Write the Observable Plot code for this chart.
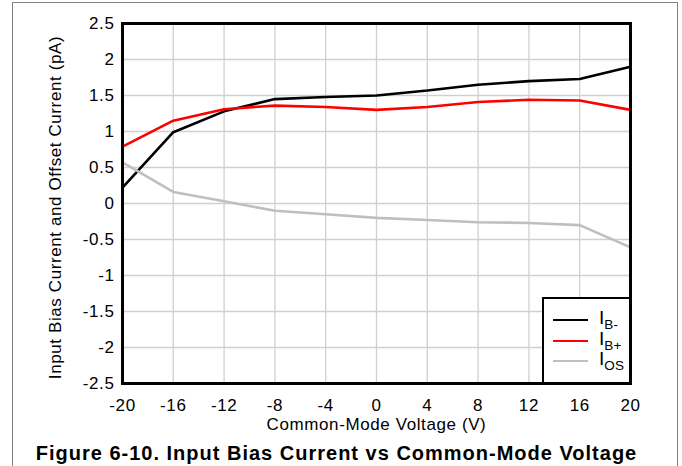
<!DOCTYPE html>
<html>
<head>
<meta charset="utf-8">
<script src="https://cdn.jsdelivr.net/npm/d3@7"></script>
<script src="https://cdn.jsdelivr.net/npm/@observablehq/plot@0.6"></script>
<style>
  html, body { margin: 0; padding: 0; background: #fff; }
  body { width: 682px; height: 466px; position: relative; overflow: hidden; font-family: "Liberation Sans", Arial, sans-serif; }
  #frame { position: absolute; left: 12px; top: 2px; width: 666px; height: 480px; border-left: 1.5px solid #808080; border-top: 1.5px solid #808080; border-right: 1.5px solid #808080; box-sizing: border-box; pointer-events: none; }
  #chart { position: absolute; left: 0; top: 0; }
  #chart svg text { letter-spacing: 0.6px; }
  #title { position: absolute; left: 0; top: 442px; width: 682px; text-align: center; font-weight: bold; font-size: 20px; letter-spacing: 1px; color: #000; padding-right: 9px; box-sizing: border-box; white-space: nowrap; }
  #legend { position: absolute; left: 542px; top: 297px; width: 89px; height: 87px; border: 2.5px solid #000; background: #fff; box-sizing: border-box; }
  .row { position: absolute; left: 9px; height: 20px; }
  .row .ln { position: absolute; left: 0; top: 9px; width: 35px; height: 0; border-top: 2.5px solid; }
  .row .lb { position: absolute; left: 46px; top: -2px; white-space: nowrap; font-size: 19px; line-height: 20px; }
  .row sub { font-size: 13.5px; vertical-align: -5px; line-height: 0; letter-spacing: 0.3px; }
</style>
</head>
<body>
<div id="chart"></div>
<div id="frame"></div>
<div id="legend"></div>
<div id="title">Figure 6-10. Input Bias Current vs Common-Mode Voltage</div>
<script>
const voltage = [-20, -16, -12, -8, -4, 0, 4, 8, 12, 16, 20];
const ibMinus = [0.22, 0.99, 1.28, 1.45, 1.48, 1.50, 1.57, 1.65, 1.70, 1.73, 1.90];
const ibPlus  = [0.79, 1.15, 1.31, 1.36, 1.34, 1.30, 1.34, 1.41, 1.44, 1.43, 1.30];
const ios     = [0.57, 0.16, 0.03, -0.10, -0.15, -0.20, -0.23, -0.26, -0.27, -0.30, -0.61];
const seriesNames = ["IB-", "IB+", "IOS"];
const seriesLabels = [["B-"], ["B+"], ["OS"]];
const seriesColors = ["#000000", "#ff0000", "#bfbfbf"];
const xTicks = [-20, -16, -12, -8, -4, 0, 4, 8, 12, 16, 20];
const yTicks = [-2.5, -2, -1.5, -1, -0.5, 0, 0.5, 1, 1.5, 2, 2.5];
const xLabel = "Common-Mode Voltage (V)";
const yLabel = "Input Bias Current and Offset Current (pA)";

const allValues = [ibMinus, ibPlus, ios];
const data = [];
allValues.forEach((vals, s) => vals.forEach((v, i) => data.push({series: seriesNames[s], x: voltage[i], y: v})));

const chart = Plot.plot({
  width: 682,
  height: 440,
  marginTop: 23,
  marginBottom: 57,
  marginLeft: 122,
  marginRight: 52,
  style: { fontFamily: "'Liberation Sans', Arial, sans-serif", fontSize: "17px", color: "#000", background: "transparent" },
  x: { domain: [-20, 20] },
  y: { domain: [-2.5, 2.5] },
  color: { domain: seriesNames, range: seriesColors },
  marks: [
    Plot.ruleX(xTicks, { stroke: "#d0d0d0", strokeWidth: 1.3 }),
    Plot.ruleY(yTicks, { stroke: "#d0d0d0", strokeWidth: 1.3 }),
    Plot.line(data, { x: "x", y: "y", z: "series", stroke: "series", strokeWidth: 2.6, strokeLinejoin: "miter" }),
    Plot.frame({ stroke: "#000", strokeWidth: 3 }),
    Plot.axisX({ ticks: xTicks, tickSize: 0, tickPadding: 15, tickFormat: d => String(d), label: null, fontSize: 17 }),
    Plot.axisY({ ticks: yTicks, tickSize: 0, tickPadding: 8, tickFormat: d => String(d), label: null, fontSize: 17 }),
    Plot.text([xLabel], { frameAnchor: "bottom", dy: 46, fontSize: 17, fill: "#000" }),
    Plot.text([yLabel], { frameAnchor: "left", textAnchor: "middle", dx: -67, dy: 4, rotate: -90, fontSize: 17, fill: "#000" })
  ]
});
document.getElementById("chart").appendChild(chart);

const legend = document.getElementById("legend");
seriesNames.forEach((name, i) => {
  const row = document.createElement("div");
  row.className = "row";
  row.style.top = (11 + i * 20.5) + "px";
  const ln = document.createElement("div");
  ln.className = "ln";
  ln.style.borderTopColor = seriesColors[i];
  const lb = document.createElement("div");
  lb.className = "lb";
  lb.innerHTML = "I<sub>" + seriesLabels[i][0] + "</sub>";
  row.appendChild(ln);
  row.appendChild(lb);
  legend.appendChild(row);
});
</script>
</body>
</html>
